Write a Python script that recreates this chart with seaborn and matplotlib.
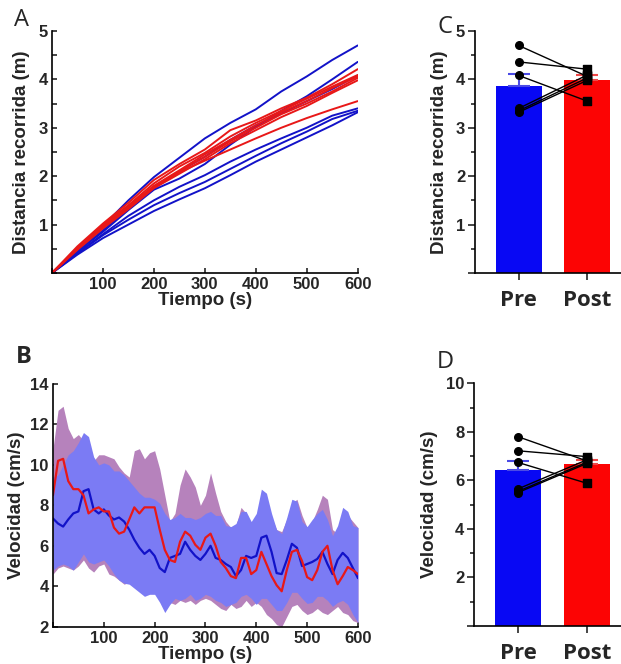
import matplotlib
matplotlib.use("Agg")
import matplotlib.pyplot as plt
import matplotlib.ticker as mticker
import seaborn as sns
import numpy as np
import pandas as pd

sns.set_style("ticks")
plt.rcParams['font.family'] = ['Liberation Sans', 'DejaVu Sans']
plt.rcParams['font.weight'] = 'bold'
plt.rcParams['axes.labelweight'] = 'bold'
plt.rcParams['axes.linewidth'] = 1.2
plt.rcParams['axes.edgecolor'] = 'black'

# ---------- Panel A: distancia acumulada (m) cada 50 s ----------
tiempo_a = [0, 50, 100, 150, 200, 250, 300, 350, 400, 450, 500, 550, 600]
dist_pre_curvas = [
    [0, 0.50, 0.97, 1.50, 1.98, 2.38, 2.78, 3.10, 3.38, 3.75, 4.06, 4.40, 4.70],
    [0, 0.45, 0.85, 1.30, 1.72, 1.95, 2.25, 2.65, 3.02, 3.35, 3.65, 4.00, 4.36],
    [0, 0.45, 0.88, 1.32, 1.75, 2.10, 2.40, 2.75, 3.05, 3.30, 3.55, 3.80, 4.08],
    [0, 0.42, 0.80, 1.18, 1.50, 1.78, 2.02, 2.30, 2.55, 2.78, 3.00, 3.25, 3.40],
    [0, 0.40, 0.78, 1.10, 1.40, 1.65, 1.88, 2.15, 2.42, 2.68, 2.92, 3.18, 3.35],
    [0, 0.38, 0.72, 1.00, 1.28, 1.52, 1.75, 2.02, 2.30, 2.55, 2.80, 3.05, 3.32],
]
dist_post_curvas = [
    [0, 0.55, 1.02, 1.45, 1.92, 2.25, 2.55, 2.95, 3.15, 3.40, 3.62, 3.90, 4.21],
    [0, 0.52, 1.00, 1.40, 1.85, 2.20, 2.48, 2.82, 3.10, 3.35, 3.60, 3.85, 4.09],
    [0, 0.50, 0.97, 1.38, 1.80, 2.12, 2.45, 2.75, 3.05, 3.32, 3.55, 3.82, 4.06],
    [0, 0.50, 0.95, 1.35, 1.78, 2.10, 2.40, 2.72, 3.00, 3.28, 3.50, 3.75, 4.03],
    [0, 0.48, 0.92, 1.32, 1.75, 2.05, 2.35, 2.68, 2.95, 3.22, 3.45, 3.72, 3.98],
    [0, 0.50, 0.95, 1.35, 1.78, 2.08, 2.32, 2.55, 2.78, 3.00, 3.20, 3.38, 3.55],
]

# ---------- Panel B: velocidad media (cm/s) y banda, cada 10 s ----------
tiempo_b = list(range(0, 601, 10))
vel_pre = [7.35, 7.1, 6.95, 7.3, 7.6, 7.7, 8.7, 8.8, 7.8, 7.6,
           7.8, 7.5, 7.3, 7.4, 7.2, 6.8, 6.3, 5.9, 5.6, 5.8,
           5.5, 4.9, 4.7, 5.4, 5.5, 5.6, 6.2, 5.8, 5.5, 5.3,
           5.6, 6.0, 5.4, 5.3, 5.1, 4.95, 4.5, 4.8, 5.5, 5.4,
           5.5, 6.4, 6.5, 5.7, 4.65, 4.6, 5.3, 6.1, 5.9, 5.0,
           5.1, 5.2, 5.35, 5.7, 5.1, 4.6, 5.3, 5.65, 5.4, 4.9,
           4.4]
vel_post = [8.5, 10.2, 10.3, 9.2, 8.8, 8.8, 8.5, 7.6, 7.8, 7.9,
            7.7, 7.7, 6.9, 6.6, 6.7, 7.3, 7.9, 7.6, 7.9, 7.9,
            7.9, 6.8, 5.8, 5.3, 5.2, 6.2, 6.7, 6.5, 6.05, 5.8,
            6.4, 6.6, 6.0, 5.2, 4.9, 4.5, 4.4, 5.4, 5.4, 4.6,
            4.8, 5.7, 5.1, 4.5, 4.05, 3.75, 4.8, 5.7, 5.8, 5.25,
            4.45, 4.3, 4.8, 5.7, 6.0, 4.8, 4.1, 4.5, 4.95, 4.8,
            4.6]
pre_sup = [9.4, 9.5, 10.0, 10.5, 10.7, 11.1, 11.6, 11.4, 10.4, 10.0,
           10.1, 10.0, 9.7, 9.7, 9.5, 9.2, 8.9, 8.6, 8.4, 8.4,
           8.3, 8.1, 7.6, 7.3, 7.4, 7.6, 7.4, 7.4, 7.3, 7.4,
           7.6, 7.7, 7.5, 7.5, 7.0, 6.95, 7.1, 7.7, 7.7, 7.2,
           7.6, 8.8, 8.6, 7.6, 6.8, 6.6, 7.4, 8.3, 8.2, 7.2,
           6.95, 7.3, 7.6, 7.8, 7.3, 6.5, 7.0, 7.9, 7.7, 7.0,
           6.9]
pre_inf = [4.8, 5.0, 5.1, 5.0, 4.8, 5.2, 5.6, 5.2, 5.1, 5.2,
           5.3, 5.0, 4.6, 4.3, 4.15, 4.1, 3.9, 3.7, 3.5, 3.6,
           3.6, 3.2, 2.7, 3.1, 3.4, 3.3, 3.4, 3.6, 3.3, 3.4,
           3.6, 3.5, 3.3, 3.2, 3.0, 3.1, 3.2, 3.5, 3.6, 3.4,
           3.1, 3.4, 3.4, 3.1, 2.8, 2.8, 3.2, 3.7, 3.7, 3.4,
           3.15, 3.2, 3.5, 3.5, 3.3, 3.0, 3.2, 3.3, 3.1, 2.6,
           2.2]
post_sup = [10.8, 12.7, 12.9, 11.8, 11.3, 11.5, 11.2, 10.8, 10.2, 10.5,
            10.5, 10.4, 10.3, 9.9, 9.6, 9.4, 10.7, 10.8, 10.3, 10.6,
            10.7, 9.8, 8.5, 7.2, 7.6, 9.0, 9.8, 9.4, 8.9, 8.0,
            8.5, 9.6, 8.6, 7.7, 7.2, 6.9, 7.0, 7.9, 7.6, 7.0,
            7.3, 8.0, 8.2, 7.4, 6.8, 6.7, 7.3, 8.1, 8.3, 7.5,
            6.9, 7.2, 7.8, 8.5, 8.3, 6.8, 6.6, 7.3, 7.5, 7.2,
            6.9]
post_inf = [4.6, 4.9, 5.0, 4.9, 4.8, 5.0, 5.3, 4.9, 4.7, 5.0,
            5.1, 4.6, 4.5, 4.3, 4.1, 4.2, 4.1, 3.9, 4.0, 4.2,
            4.1, 3.8, 3.6, 3.2, 3.1, 3.3, 3.2, 3.3, 3.1, 3.3,
            3.4, 3.3, 3.1, 2.9, 2.8, 3.1, 2.9, 3.0, 3.3, 3.0,
            3.2, 3.0, 2.6, 2.4, 2.1, 2.0, 2.5, 3.0, 3.1, 2.8,
            2.6, 2.7, 2.9, 2.7, 2.6, 2.8, 3.0, 2.7, 2.6, 2.3,
            2.2]

# ---------- Paneles C y D: valores por sujeto ----------
condiciones = ['Pre', 'Post']
dist_pre = [4.70, 4.36, 4.08, 3.40, 3.35, 3.32]
dist_post = [4.06, 4.21, 3.55, 4.09, 4.03, 3.98]
velm_pre = [7.80, 7.22, 6.74, 5.65, 5.55, 5.50]
velm_post = [6.80, 6.98, 5.88, 6.85, 6.75, 6.70]

AZUL = '#1212c8'
ROJO = '#e81818'
BANDA_AZUL = '#7b7bf4'
BANDA_MALVA = '#b682bc'
BARRA_AZUL = '#0808f4'
BARRA_ROJA = '#fc0404'
ERR_AZUL = '#4a4ae6'
ERR_ROJO = '#f04848'

fig = plt.figure(figsize=(6.21, 6.64), dpi=100)
ax_a = fig.add_axes([0.0837, 0.5889, 0.4923, 0.3645])
ax_b = fig.add_axes([0.0853, 0.0562, 0.4911, 0.3655])
ax_c = fig.add_axes([0.7649, 0.5889, 0.2351, 0.3645])
ax_d = fig.add_axes([0.7633, 0.0572, 0.2367, 0.3655])

TICK_FS = 12
LAB_FS = 13.5

# ----- A -----
filas = []
for i, curva in enumerate(dist_pre_curvas):
    for t, d in zip(tiempo_a, curva):
        filas.append({'t': t, 'd': d, 'grupo': 'Pre', 'sujeto': f'pre{i}'})
for i, curva in enumerate(dist_post_curvas):
    for t, d in zip(tiempo_a, curva):
        filas.append({'t': t, 'd': d, 'grupo': 'Post', 'sujeto': f'post{i}'})
df_a = pd.DataFrame(filas)
sns.lineplot(data=df_a, x='t', y='d', hue='grupo', units='sujeto', estimator=None,
             palette={'Pre': AZUL, 'Post': ROJO}, lw=1.4, legend=False, ax=ax_a)
ax_a.set_xlim(0, 600)
ax_a.set_ylim(0, 5)
ax_a.xaxis.set_major_locator(mticker.MultipleLocator(100))
ax_a.yaxis.set_major_locator(mticker.MultipleLocator(0.5))
ax_a.yaxis.set_major_formatter(mticker.FuncFormatter(
    lambda v, p: f'{int(round(v))}' if abs(v - round(v)) < 1e-6 and v > 0 else ''))
ax_a.xaxis.set_major_formatter(mticker.FuncFormatter(
    lambda v, p: f'{int(v)}' if v > 0 else ''))
ax_a.set_xlabel('Tiempo (s)', fontsize=LAB_FS, labelpad=0)
ax_a.set_ylabel('Distancia recorrida (m)', fontsize=LAB_FS, labelpad=6)

# ----- B -----
ax_b.fill_between(tiempo_b, post_inf, post_sup, color=BANDA_MALVA, lw=0)
ax_b.fill_between(tiempo_b, pre_inf, pre_sup, color=BANDA_AZUL, lw=0)
df_b = pd.DataFrame({'t': tiempo_b * 2,
                     'v': vel_pre + vel_post,
                     'grupo': ['Pre'] * len(tiempo_b) + ['Post'] * len(tiempo_b)})
sns.lineplot(data=df_b, x='t', y='v', hue='grupo', palette={'Pre': AZUL, 'Post': ROJO},
             lw=1.6, legend=False, ax=ax_b)
ax_b.set_xlim(0, 600)
ax_b.set_ylim(2, 14)
ax_b.xaxis.set_major_locator(mticker.MultipleLocator(100))
ax_b.yaxis.set_major_locator(mticker.MultipleLocator(2))
ax_b.xaxis.set_major_formatter(mticker.FuncFormatter(
    lambda v, p: f'{int(v)}' if v > 0 else ''))
ax_b.set_xlabel('Tiempo (s)', fontsize=LAB_FS, labelpad=0)
ax_b.set_ylabel('Velocidad (cm/s)', fontsize=LAB_FS, labelpad=4)

for ax in (ax_a, ax_b):
    sns.despine(ax=ax)
    ax.tick_params(direction='in', length=3.5, width=1.2, labelsize=TICK_FS, pad=3)


# ----- C y D -----
def panel_barras(ax, pre, post, ylim, mayor, menor, ylabel):
    df = pd.DataFrame({'cond': ['Pre'] * len(pre) + ['Post'] * len(post),
                       'valor': pre + post})
    sns.barplot(data=df, x='cond', y='valor', hue='cond', order=condiciones,
                palette={'Pre': BARRA_AZUL, 'Post': BARRA_ROJA}, errorbar=None,
                width=0.667, linewidth=0, saturation=1, legend=False, ax=ax)
    resumen = df.groupby('cond', sort=False)['valor'].agg(['mean', 'sem'])
    for i, (cond, col) in enumerate(zip(condiciones, [ERR_AZUL, ERR_ROJO])):
        ax.errorbar(i, resumen.loc[cond, 'mean'], yerr=[[0], [resumen.loc[cond, 'sem']]],
                    color=col, lw=1.5, capsize=8, capthick=1.5, zorder=3)
    for a, b in zip(pre, post):
        ax.plot([0, 1], [a, b], color='black', lw=1, zorder=4)
    ax.scatter([0] * len(pre), pre, marker='o', s=30, color='black', zorder=5)
    ax.scatter([1] * len(post), post, marker='s', s=30, color='black', zorder=5)
    ax.set_xlim(-0.638, 1.493)
    ax.set_ylim(*ylim)
    ax.yaxis.set_major_locator(mticker.MultipleLocator(mayor))
    ax.yaxis.set_minor_locator(mticker.MultipleLocator(menor))
    ax.yaxis.set_major_formatter(mticker.FuncFormatter(
        lambda v, p: f'{int(v)}' if v > 0 else ''))
    ax.set_xticks([0, 1])
    ax.set_xticklabels(condiciones, fontsize=16, fontweight='bold',
                       family=['Open Sans', 'DejaVu Sans'])
    ax.set_xlabel('')
    ax.set_ylabel(ylabel, fontsize=LAB_FS, labelpad=6)
    sns.despine(ax=ax)
    ax.tick_params(axis='y', which='major', direction='out', length=5, width=1.2,
                   labelsize=TICK_FS, pad=2)
    ax.tick_params(axis='y', which='minor', direction='out', length=3, width=1.2)
    ax.tick_params(axis='x', direction='out', length=5, width=1.2, pad=7)


panel_barras(ax_c, dist_pre, dist_post, (0, 5), 1, 0.5, 'Distancia recorrida (m)')
panel_barras(ax_d, velm_pre, velm_post, (0, 10), 2, 1, 'Velocidad (cm/s)')

# letras de panel
letras = [('A', 22, 26, 'normal'), ('B', 24, 363, 'bold'),
          ('C', 445, 33, 'normal'), ('D', 445, 368, 'normal')]
for letra, px, py, peso in letras:
    fig.text(px / 621, 1 - py / 664, letra, fontsize=17, fontweight=peso,
             family=['Open Sans', 'DejaVu Sans'], ha='center', va='baseline')

fig.savefig('out.png', dpi=100, facecolor='white')
